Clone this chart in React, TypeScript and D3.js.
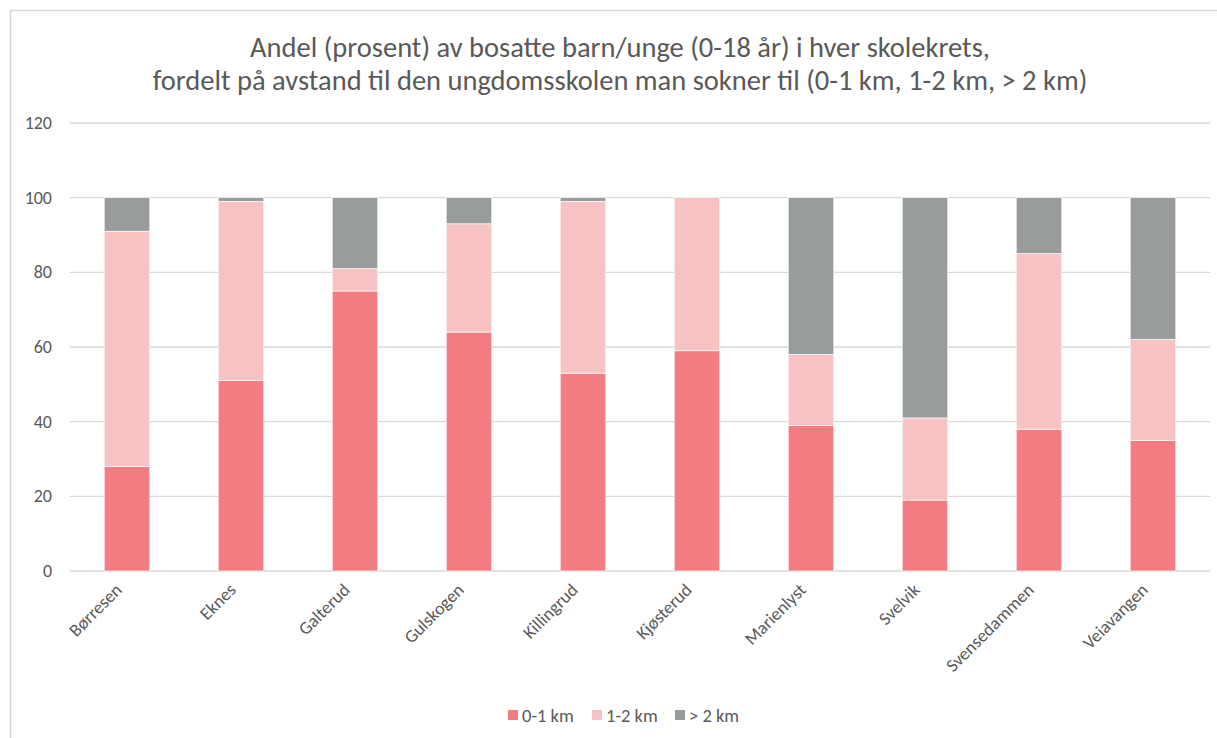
import * as d3 from "d3";

const schools = [
  "Børresen",
  "Eknes",
  "Galterud",
  "Gulskogen",
  "Killingrud",
  "Kjøsterud",
  "Marienlyst",
  "Svelvik",
  "Svensedammen",
  "Veiavangen",
];
const near = [28, 51, 75, 64, 53, 59, 39, 19, 38, 35];
const mid = [63, 48, 6, 29, 46, 41, 19, 22, 47, 27];
const far = [9, 1, 19, 7, 1, 0, 42, 59, 15, 38];
const seriesNames = ["0-1 km", "1-2 km", "> 2 km"];
const seriesColors = ["#F27C80", "#F7C2C3", "#999C9C"];
const yTicks = [0, 20, 40, 60, 80, 100, 120];
const titleLines = [
  "Andel (prosent) av bosatte barn/unge (0-18 år) i hver skolekrets,",
  "fordelt på avstand til den ungdomsskolen man sokner til (0-1 km, 1-2 km, > 2 km)",
];

const font = "Calibri, Carlito, Lato, 'Open Sans', sans-serif";

export default function App() {
  const width = 1217;
  const height = 738;
  const margin = { top: 123, right: 7, bottom: 167, left: 70 };
  const innerWidth = width - margin.left - margin.right;
  const innerHeight = height - margin.top - margin.bottom;

  const rows = schools.map((s, i) => ({ school: s, a: near[i], b: mid[i], c: far[i] }));
  const stacked = d3.stack<any>().keys(["a", "b", "c"])(rows);

  const x = d3.scaleBand().domain(schools).range([0, innerWidth]).paddingInner(0.6).paddingOuter(0.3);
  const y = d3.scaleLinear().domain([0, 120]).range([innerHeight, 0]);

  return (
    <svg
      width={width}
      height={height}
      style={{ position: "absolute", left: 0, top: 0, background: "#fff" }}
      fontFamily={font}
    >
      <rect x={10.5} y={10.5} width={1230} height={760} fill="#fff" stroke="#D9D9D9" strokeWidth={1.5} />
      {titleLines.map((t, i) => (
        <text
          key={i}
          x={620}
          y={57 + i * 33}
          textAnchor="middle"
          fontSize={28.5}
          fill="#595959"
        >
          {t}
        </text>
      ))}
      <g transform={`translate(${margin.left}, ${margin.top})`}>
        {yTicks.map((t) => (
          <g key={t}>
            <line x1={0} x2={innerWidth} y1={y(t)} y2={y(t)} stroke="#D9D9D9" strokeWidth={1.3} />
            <text x={-18} y={y(t) + 6} textAnchor="end" fontSize={18} fill="#595959">
              {t}
            </text>
          </g>
        ))}
        {stacked.map((layer, li) => (
          <g key={li} fill={seriesColors[li]}>
            {layer.map((d) =>
              d[1] - d[0] > 0 ? (
                <rect
                  key={d.data.school}
                  x={x(d.data.school)}
                  y={y(d[1])}
                  width={x.bandwidth()}
                  height={y(d[0]) - y(d[1])}
                  stroke="#fff"
                  strokeWidth={0.7}
                />
              ) : null
            )}
          </g>
        ))}
        {schools.map((s) => (
          <text
            key={s}
            transform={`translate(${(x(s) ?? 0) + x.bandwidth() / 2 - 4}, ${innerHeight + 20}) rotate(-45)`}
            textAnchor="end"
            fontSize={18}
            fill="#595959"
          >
            {s}
          </text>
        ))}
      </g>
      <g transform="translate(508, 715)">
        {seriesNames.map((n, i) => {
          const off = [0, 84, 167][i];
          return (
            <g key={n} transform={`translate(${off}, 0)`}>
              <rect x={0} y={-5} width={10} height={10} fill={seriesColors[i]} />
              <text x={14} y={6.5} fontSize={18.5} fill="#595959">
                {n}
              </text>
            </g>
          );
        })}
      </g>
    </svg>
  );
}
